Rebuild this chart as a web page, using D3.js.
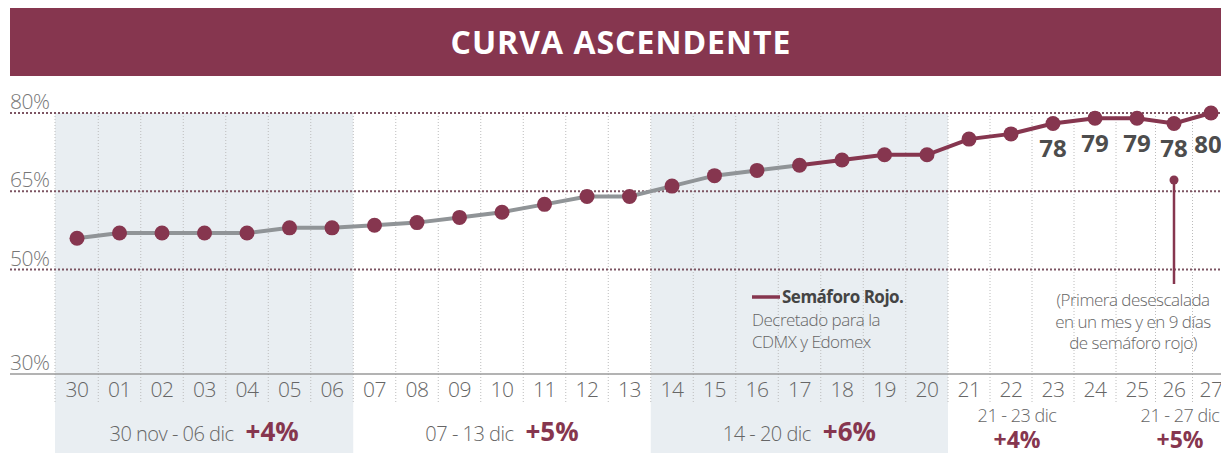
<!DOCTYPE html>
<html>
<head>
<meta charset="utf-8">
<script src="https://cdn.jsdelivr.net/npm/d3@7"></script>
<style>
  body { margin: 0; background: #fff; }
  svg text { font-family: "Open Sans", "Noto Sans", sans-serif; }
</style>
</head>
<body>
<div id="chart"></div>
<script>
var days = ["30","01","02","03","04","05","06","07","08","09","10","11","12","13",
            "14","15","16","17","18","19","20","21","22","23","24","25","26","27"];
var values = [56, 57, 57, 57, 57, 58, 58, 58.5, 59, 60, 61, 62.5, 64, 64,
              66, 68, 69, 70, 71, 72, 72, 75, 76, 78, 79, 79, 78, 80];
var yTicks = [80, 65, 50, 30];
var redStart = 17;           // semáforo rojo line starts after this day index
var labeled = [23, 24, 25, 26, 27];
var weekNames = ["30 nov - 06 dic", "07 - 13 dic", "14 - 20 dic", "21 - 23 dic", "21 - 27 dic"];
var weekChange = ["+4%", "+5%", "+6%", "+4%", "+5%"];
var weekFrom = [0, 7, 14, 21, 21];
var weekTo = [6, 13, 20, 23, 27];
var noteLines = ["(Primera desescalada", "en un mes y en 9 días", "de semáforo rojo)"];
var legendLines = ["Decretado para la", "CDMX y Edomex"];

var W = 1221, H = 455;
var maroon = "#86364f", grayLine = "#909497", shade = "#e9eef2", txt = "#666";

var svg = d3.select("#chart").append("svg")
    .attr("width", W)
    .attr("height", H);

var x = d3.scaleLinear().domain([0, 20, 25, 27]).range([77, 927, 1137, 1211]);
var y = d3.scaleLinear().domain([30, 80]).range([374, 113]);

function edge(i) {
  if (i <= 0) return x(0) - 22;
  return (x(i - 1) + x(i)) / 2;
}

//////////// HEADER ////////////
svg.append("rect")
    .attr("x", 10).attr("y", 8)
    .attr("width", W - 10).attr("height", 68)
    .attr("fill", maroon);
svg.append("text")
    .attr("x", 621).attr("y", 54)
    .attr("text-anchor", "middle")
    .attr("fill", "#fff")
    .attr("font-size", 32)
    .attr("font-weight", "bold")
    .attr("letter-spacing", 1)
    .text("CURVA ASCENDENTE");

//////////// SHADED WEEKS ////////////
[0, 2].forEach(function(w) {
  svg.append("rect")
      .attr("x", edge(weekFrom[w]))
      .attr("y", y(80))
      .attr("width", edge(weekTo[w] + 1) - edge(weekFrom[w]))
      .attr("height", 453 - y(80))
      .attr("fill", shade);
});

//////////// VERTICAL GRID ////////////
svg.selectAll("line.vgrid")
    .data(d3.range(0, days.length))
    .enter().append("line")
    .attr("class", "vgrid")
    .attr("x1", function(i) { return edge(i); })
    .attr("x2", function(i) { return edge(i); })
    .attr("y1", y(80))
    .attr("y2", 402)
    .attr("stroke", "#bcbcbc")
    .attr("stroke-width", 1)
    .attr("stroke-dasharray", "1,2");

//////////// HORIZONTAL GRID ////////////
svg.selectAll("line.hgrid")
    .data(yTicks)
    .enter().append("line")
    .attr("class", "hgrid")
    .attr("x1", 10).attr("x2", W)
    .attr("y1", function(d) { return y(d); })
    .attr("y2", function(d) { return y(d); })
    .attr("stroke", function(d) { return d == 30 ? "#9a9a9a" : "#7d5563"; })
    .attr("stroke-width", function(d) { return d == 30 ? 1.5 : 2; })
    .attr("stroke-dasharray", function(d) { return d == 30 ? null : "2,2"; });

svg.selectAll("text.ytick")
    .data(yTicks)
    .enter().append("text")
    .attr("class", "ytick")
    .attr("x", 10)
    .attr("y", function(d) { return y(d) - 4; })
    .attr("fill", "#777")
    .attr("font-size", 21)
    .attr("font-weight", 300)
    .attr("letter-spacing", -0.5)
    .text(function(d) { return d + "%"; });

//////////// DATE LABELS ////////////
svg.selectAll("text.day")
    .data(days)
    .enter().append("text")
    .attr("class", "day")
    .attr("x", function(d, i) { return x(i); })
    .attr("y", 397)
    .attr("text-anchor", "middle")
    .attr("fill", txt)
    .attr("font-size", 21)
    .attr("font-weight", 300)
    .attr("letter-spacing", -0.5)
    .text(function(d) { return d; });

//////////// WEEK LABELS ////////////
weekNames.forEach(function(name, w) {
  var cx = (edge(weekFrom[w]) + edge(weekTo[w] + 1)) / 2;
  if (w < 3) {
    var t = svg.append("text")
        .attr("x", cx).attr("y", 441)
        .attr("text-anchor", "middle")
        .attr("fill", txt)
        .attr("font-size", 20)
        .attr("font-weight", 300)
        .attr("letter-spacing", -0.5);
    t.append("tspan").text(name);
    t.append("tspan")
        .attr("dx", 12)
        .attr("fill", maroon)
        .attr("font-size", 26)
        .attr("font-weight", "bold")
        .attr("letter-spacing", 0)
        .text(weekChange[w]);
  } else {
    var cx2 = w == 3 ? x(22) + 6 : x(26) + 6;
    svg.append("text")
        .attr("x", cx2).attr("y", 422)
        .attr("text-anchor", "middle")
        .attr("fill", txt)
        .attr("font-size", 18)
        .attr("font-weight", 300)
        .attr("letter-spacing", -0.5)
        .text(name);
    svg.append("text")
        .attr("x", cx2).attr("y", 448)
        .attr("text-anchor", "middle")
        .attr("fill", maroon)
        .attr("font-size", 23)
        .attr("font-weight", "bold")
        .text(weekChange[w]);
  }
});

//////////// LINE ////////////
var line = d3.line()
    .x(function(d) { return x(d.i); })
    .y(function(d) { return y(d.v); });
var pts = values.map(function(v, i) { return { i: i, v: v }; });

svg.append("path")
    .attr("d", line(pts.slice(0, redStart + 1)))
    .attr("fill", "none")
    .attr("stroke", grayLine)
    .attr("stroke-width", 4);
svg.append("path")
    .attr("d", line(pts.slice(redStart)))
    .attr("fill", "none")
    .attr("stroke", maroon)
    .attr("stroke-width", 4);

svg.selectAll("circle.pt")
    .data(pts)
    .enter().append("circle")
    .attr("class", "pt")
    .attr("cx", function(d) { return x(d.i); })
    .attr("cy", function(d) { return y(d.v); })
    .attr("r", 7.5)
    .attr("fill", maroon);

//////////// VALUE LABELS ////////////
svg.selectAll("text.val")
    .data(labeled)
    .enter().append("text")
    .attr("class", "val")
    .attr("x", function(i) { return i == 27 ? x(i) - 3 : x(i); })
    .attr("y", function(i) { return y(values[i]) + (i == 27 ? 40 : 34); })
    .attr("text-anchor", "middle")
    .attr("fill", "#4d4d4d")
    .attr("font-size", 24)
    .attr("font-weight", "bold")
    .text(function(i) { return values[i]; });

//////////// ANNOTATION ////////////
svg.append("line")
    .attr("x1", x(26)).attr("x2", x(26))
    .attr("y1", 180).attr("y2", 284)
    .attr("stroke", maroon)
    .attr("stroke-width", 2.5);
svg.append("circle")
    .attr("cx", x(26)).attr("cy", 180)
    .attr("r", 4.5)
    .attr("fill", maroon);

svg.selectAll("text.note")
    .data(noteLines)
    .enter().append("text")
    .attr("class", "note")
    .attr("x", 1133)
    .attr("y", function(d, i) { return 306 + i * 21.5; })
    .attr("text-anchor", "middle")
    .attr("fill", txt)
    .attr("font-size", 17)
    .attr("font-weight", 300)
    .attr("letter-spacing", -0.5)
    .text(function(d) { return d; });

//////////// LEGEND ////////////
svg.append("line")
    .attr("x1", 752).attr("x2", 780)
    .attr("y1", 297).attr("y2", 297)
    .attr("stroke", maroon)
    .attr("stroke-width", 3.5);
svg.append("text")
    .attr("x", 782).attr("y", 303)
    .attr("fill", "#444")
    .attr("font-size", 17)
    .attr("font-weight", "bold")
    .attr("letter-spacing", -0.5)
    .text("Semáforo Rojo.");
svg.selectAll("text.leg")
    .data(legendLines)
    .enter().append("text")
    .attr("class", "leg")
    .attr("x", 752)
    .attr("y", function(d, i) { return 326 + i * 21.5; })
    .attr("fill", txt)
    .attr("font-size", 17)
    .attr("font-weight", 300)
    .attr("letter-spacing", -0.5)
    .text(function(d) { return d; });
</script>
</body>
</html>
